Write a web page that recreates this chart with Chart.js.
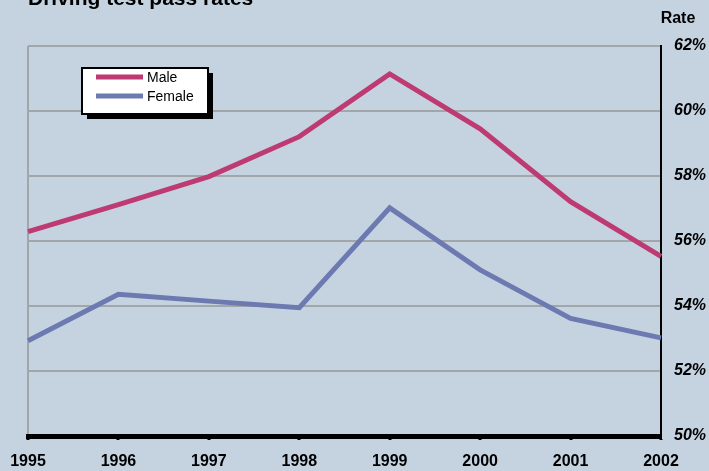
<!DOCTYPE html>
<html>
<head>
<meta charset="utf-8">
<script src="https://cdn.jsdelivr.net/npm/chart.js@4/dist/chart.umd.min.js"></script>
<style>
  html, body { margin: 0; padding: 0; background: #C5D3E0; }
  #wrap { position: relative; width: 709px; height: 471px; overflow: hidden; }
  canvas { display: block; }
</style>
</head>
<body>
<div id="wrap"><canvas id="c" width="709" height="471"></canvas></div>
<script>
const years = ['1995','1996','1997','1998','1999','2000','2001','2002'];
const maleRates = [56.29, 57.12, 57.98, 59.21, 61.14, 59.45, 57.21, 55.53];
const femaleRates = [52.93, 54.36, 54.15, 53.95, 57.02, 55.11, 53.62, 53.02];
const seriesNames = ['Male', 'Female'];
const chartTitle = 'Driving test pass rates';
const axisTitle = 'Rate';

const FONT = '"Liberation Sans", Arial, sans-serif';
const MALE_COLOR = '#BE3A72';
const FEMALE_COLOR = '#6C7AB1';
const GRID = '#A3A6A9';

const overlay = {
  id: 'overlay',
  afterDraw(chart) {
    const ctx = chart.ctx;
    ctx.save();
    // title (cut off at top like the reference)
    ctx.fillStyle = '#000';
    ctx.font = 'bold 21px ' + FONT;
    ctx.textAlign = 'left';
    ctx.textBaseline = 'alphabetic';
    ctx.fillText(chartTitle, 28, 5);
    // axis title
    ctx.font = 'bold 16px ' + FONT;
    ctx.textAlign = 'center';
    ctx.textBaseline = 'middle';
    ctx.fillText(axisTitle, 678, 19);
    // legend box with shadow
    const bx = 82, by = 68, bw = 126, bh = 46;
    ctx.fillStyle = '#000';
    ctx.fillRect(bx + 5, by + 5, bw, bh);
    ctx.fillStyle = '#fff';
    ctx.fillRect(bx, by, bw, bh);
    ctx.strokeStyle = '#000';
    ctx.lineWidth = 2;
    ctx.strokeRect(bx, by, bw, bh);
    chart.data.datasets.forEach((ds, i) => {
      const y = by + 9 + i * 19;
      ctx.strokeStyle = ds.borderColor;
      ctx.lineWidth = 5;
      ctx.beginPath();
      ctx.moveTo(bx + 14, y);
      ctx.lineTo(bx + 61, y);
      ctx.stroke();
      ctx.fillStyle = '#000';
      ctx.font = '14px ' + FONT;
      ctx.textAlign = 'left';
      ctx.textBaseline = 'middle';
      ctx.fillText(ds.label, bx + 65, y + 1);
    });
    ctx.restore();
  }
};

new Chart(document.getElementById('c'), {
  type: 'line',
  data: {
    labels: years,
    datasets: [
      { label: seriesNames[0], data: maleRates, borderColor: MALE_COLOR, backgroundColor: MALE_COLOR,
        borderWidth: 5, pointRadius: 0, tension: 0, borderJoinStyle: 'miter' },
      { label: seriesNames[1], data: femaleRates, borderColor: FEMALE_COLOR, backgroundColor: FEMALE_COLOR,
        borderWidth: 5, pointRadius: 0, tension: 0, borderJoinStyle: 'miter' }
    ]
  },
  options: {
    responsive: false,
    animation: false,
    events: [],
    layout: { padding: { left: 28, top: 46, right: 0, bottom: 0 } },
    plugins: { legend: { display: false }, title: { display: false }, tooltip: { enabled: false } },
    scales: {
      x: {
        offset: false,
        grid: {
          color: (c) => c.index === 0 ? GRID : 'rgba(0,0,0,0)',
          lineWidth: 2,
          drawTicks: true,
          tickLength: 4,
          tickColor: '#000',
          tickWidth: 3
        },
        border: { display: true, color: '#000', width: 5 },
        ticks: {
          color: '#000',
          font: { family: FONT, size: 16, weight: 'bold' },
          padding: 12,
          maxRotation: 0,
          autoSkip: false
        },
        afterFit(scale) { scale.height = 35; scale.paddingLeft = 0; scale.paddingRight = 0; }
      },
      y: {
        position: 'right',
        min: 50,
        max: 62,
        grid: { color: GRID, lineWidth: 2, drawTicks: false },
        border: { display: true, color: '#000', width: 2 },
        ticks: {
          stepSize: 2,
          color: '#000',
          padding: 13,
          font: { family: FONT, size: 16, weight: 'bold', style: 'italic' },
          callback: (v) => v + '%'
        },
        afterFit(scale) { scale.width = 48; scale.paddingTop = 0; scale.paddingBottom = 0; }
      }
    }
  },
  plugins: [overlay]
});
</script>
</body>
</html>
